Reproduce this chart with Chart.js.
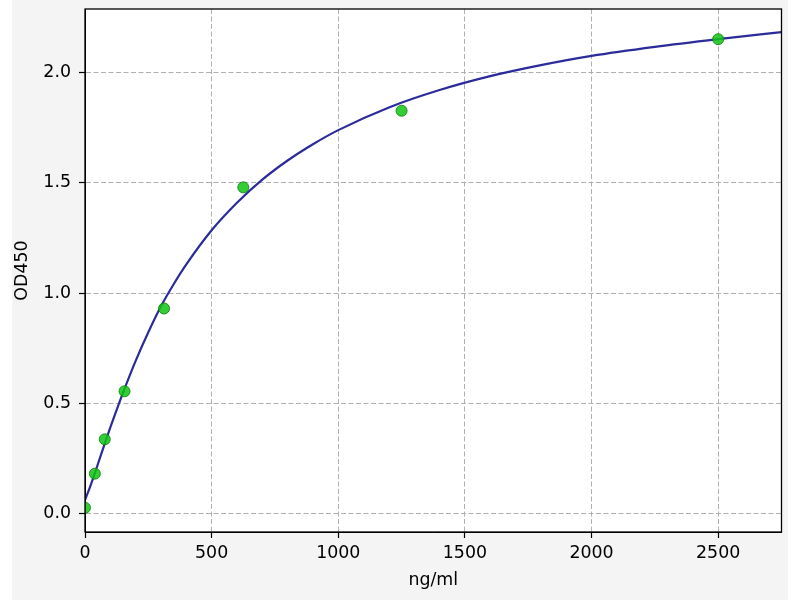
<!DOCTYPE html>
<html>
<head>
<meta charset="utf-8">
<title>OD450 standard curve</title>
<script src="https://cdn.jsdelivr.net/npm/chart.js@4.4.1/dist/chart.umd.min.js"></script>
<style>
  html, body { margin: 0; padding: 0; background: #ffffff; }
  #wrap { position: absolute; left: 12px; top: 0; width: 776px; height: 600px; background: #f4f4f4; }
  canvas { display: block; }
</style>
</head>
<body>
<div id="wrap"><canvas id="curve" width="776" height="600"></canvas></div>
<script>
// standard points
var stdConc = [0, 39, 78, 156, 312, 625, 1250, 2500];
var stdOD = [0.025, 0.18, 0.336, 0.554, 0.93, 1.48, 1.828, 2.153];

// fitted curve, sampled by eye along the blue line
var fitConc = [0, 20, 40, 60, 80, 100, 125, 150, 200, 250, 300, 350, 400, 500, 600, 700, 800, 900, 1000, 1200, 1400, 1600, 1800, 2000, 2250, 2500, 2750];
var fitOD = [0.06, 0.12, 0.186, 0.255, 0.323, 0.39, 0.47, 0.547, 0.692, 0.822, 0.94, 1.04, 1.13, 1.285, 1.41, 1.515, 1.602, 1.676, 1.74, 1.843, 1.922, 1.985, 2.035, 2.077, 2.118, 2.153, 2.185];

var xTicks = [0, 500, 1000, 1500, 2000, 2500];
var yTicks = [0, 0.5, 1, 1.5, 2];

var font = { family: 'DejaVu Sans', size: 17.4 };

function pairs(xs, ys) {
  return xs.map(function (x, i) { return { x: x, y: ys[i] }; });
}

// white plot face + black frame round it (matplotlib look)
var frame = {
  id: 'frame',
  beforeDraw: function (chart) {
    var a = chart.chartArea, ctx = chart.ctx;
    ctx.save();
    ctx.fillStyle = '#ffffff';
    ctx.fillRect(a.left, a.top, a.right - a.left, a.bottom - a.top);
    ctx.restore();
  },
  afterDraw: function (chart) {
    var a = chart.chartArea, ctx = chart.ctx;
    ctx.save();
    ctx.strokeStyle = '#000000';
    ctx.lineWidth = 1.3;
    ctx.strokeRect(a.left, a.top, a.right - a.left, a.bottom - a.top);
    ctx.restore();
  }
};

new Chart(document.getElementById('curve').getContext('2d'), {
  type: 'scatter',
  data: {
    datasets: [{
      label: 'standards',
      data: pairs(stdConc, stdOD),
      order: 0,
      pointRadius: 5.5,
      pointBackgroundColor: 'rgba(18,196,18,0.85)',
      pointBorderColor: 'rgba(15,130,15,0.85)',
      pointBorderWidth: 1,
      showLine: false
    }, {
      label: 'fit',
      data: pairs(fitConc, fitOD),
      order: 1,
      showLine: true,
      borderColor: '#2b2b9c',
      borderWidth: 2.2,
      pointRadius: 0,
      cubicInterpolationMode: 'monotone',
      fill: false
    }]
  },
  options: {
    responsive: false,
    animation: false,
    devicePixelRatio: 1,
    layout: { padding: { left: 0, right: 3, top: 9, bottom: 0 } },
    plugins: { legend: { display: false }, tooltip: { enabled: false } },
    scales: {
      x: {
        type: 'linear',
        min: 0,
        max: 2750,
        afterFit: function (s) { s.height = 68; s.paddingLeft = 0; s.paddingRight = 0; },
        afterBuildTicks: function (s) { s.ticks = xTicks.map(function (v) { return { value: v }; }); },
        ticks: { color: '#000000', font: font, padding: 5, maxRotation: 0,
          callback: function (v) { return String(v); } },
        grid: { color: '#b0b0b0', lineWidth: 1, tickColor: '#000000', tickLength: 6, tickWidth: 1.2 },
        border: { display: true, color: '#000000', width: 1, dash: [5, 2.5] },
        title: { display: true, text: 'ng/ml', color: '#000000', font: font, padding: { top: 0, bottom: 9 } }
      },
      y: {
        type: 'linear',
        min: -0.085,
        max: 2.29,
        afterFit: function (s) { s.width = 73; s.paddingTop = 0; s.paddingBottom = 0; },
        afterBuildTicks: function (s) { s.ticks = yTicks.map(function (v) { return { value: v }; }); },
        ticks: { color: '#000000', font: font, padding: 8,
          callback: function (v) { return v.toFixed(1); } },
        grid: { color: '#b0b0b0', lineWidth: 1, tickColor: '#000000', tickLength: 6, tickWidth: 1.2 },
        border: { display: true, color: '#000000', width: 1, dash: [5, 2.5] },
        title: { display: true, text: 'OD450', color: '#000000', font: font, padding: { top: 0, bottom: 0 } }
      }
    }
  },
  plugins: [frame]
});
</script>
</body>
</html>
